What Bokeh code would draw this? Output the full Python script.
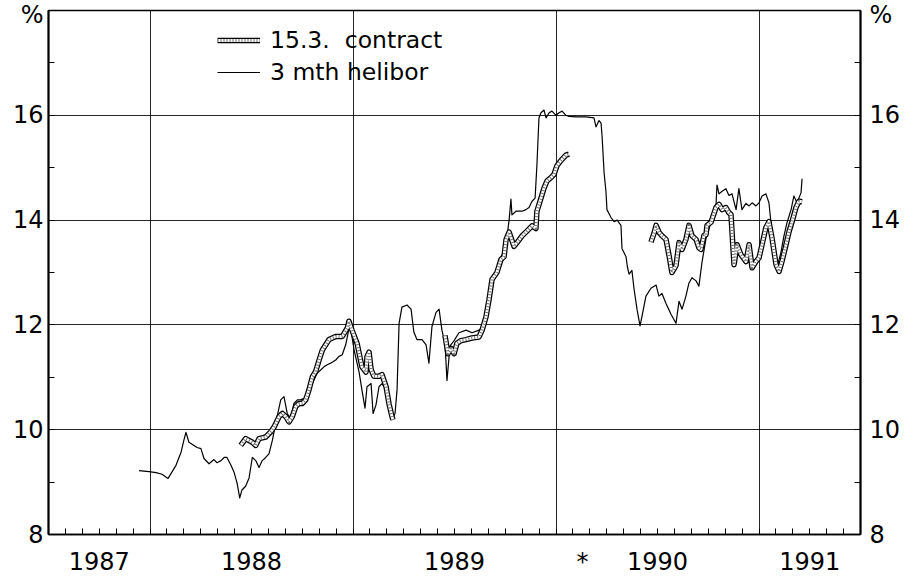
from bokeh.plotting import figure
from bokeh.models import Range1d, FixedTicker, LinearAxis, Legend, LegendItem
from bokeh.embed import file_html
from bokeh.resources import INLINE

# ---------------- data (decimal years, percent) ----------------
helibor_t = [1987.946, 1987.995, 1988.030, 1988.059, 1988.089, 1988.128, 1988.153, 1988.167,
             1988.177, 1988.192, 1988.217, 1988.232, 1988.251, 1988.266, 1988.291, 1988.315,
             1988.330, 1988.350, 1988.365, 1988.379, 1988.399, 1988.414, 1988.429, 1988.442,
             1988.453, 1988.471, 1988.488, 1988.504, 1988.521, 1988.537, 1988.553, 1988.570,
             1988.586, 1988.603, 1988.619, 1988.644, 1988.660, 1988.676, 1988.693, 1988.709,
             1988.726, 1988.742, 1988.759, 1988.775, 1988.792, 1988.808, 1988.824, 1988.841,
             1988.857, 1988.873, 1988.890, 1988.915, 1988.931, 1988.947, 1988.964, 1988.985,
             1989.005, 1989.030, 1989.044, 1989.059, 1989.069, 1989.089, 1989.099, 1989.113,
             1989.128, 1989.143, 1989.163, 1989.177, 1989.192, 1989.207, 1989.217, 1989.227,
             1989.241, 1989.266, 1989.286, 1989.300, 1989.315, 1989.340, 1989.360, 1989.374,
             1989.389, 1989.409, 1989.424, 1989.438, 1989.453, 1989.463, 1989.478, 1989.498,
             1989.522, 1989.557, 1989.586, 1989.621, 1989.636, 1989.655, 1989.670, 1989.685,
             1989.709, 1989.729, 1989.744, 1989.759, 1989.769, 1989.778, 1989.783, 1989.803,
             1989.833, 1989.852, 1989.867, 1989.882, 1989.897, 1989.906, 1989.916, 1989.926,
             1989.941, 1989.951, 1989.966, 1989.980, 1990.000, 1990.015, 1990.030, 1990.049,
             1990.064, 1990.099, 1990.148, 1990.187, 1990.197, 1990.212, 1990.222, 1990.227,
             1990.237, 1990.246, 1990.251, 1990.271, 1990.286, 1990.301, 1990.320, 1990.325,
             1990.345, 1990.352, 1990.360, 1990.374, 1990.384, 1990.399, 1990.414, 1990.424,
             1990.443, 1990.468, 1990.493, 1990.507, 1990.522, 1990.542, 1990.567, 1990.591,
             1990.606, 1990.621, 1990.640, 1990.655, 1990.670, 1990.690, 1990.704, 1990.719,
             1990.739, 1990.754, 1990.769, 1990.788, 1990.793, 1990.803, 1990.818, 1990.837,
             1990.852, 1990.867, 1990.887, 1990.901, 1990.916, 1990.936, 1990.951, 1990.966,
             1990.985, 1991.000, 1991.015, 1991.034, 1991.049, 1991.059, 1991.074, 1991.089,
             1991.108, 1991.123, 1991.138, 1991.158, 1991.172, 1991.187, 1991.207, 1991.212]
helibor_v = [9.22, 9.20, 9.18, 9.15, 9.07, 9.32, 9.57, 9.80,
             9.95, 9.76, 9.70, 9.66, 9.64, 9.45, 9.35, 9.43,
             9.37, 9.41, 9.47, 9.47, 9.32, 9.19, 8.98, 8.70,
             8.85, 8.92, 9.08, 9.47, 9.41, 9.28, 9.41, 9.47,
             9.54, 9.80, 10.12, 10.57, 10.63, 10.31, 10.21, 10.50,
             10.57, 10.57, 10.60, 10.63, 10.82, 10.95, 11.08, 11.14,
             11.20, 11.24, 11.27, 11.33, 11.40, 11.43, 11.62, 12.02,
             11.53, 11.10, 10.76, 10.41, 10.82, 10.88, 10.31, 10.47,
             10.82, 10.88, 10.76, 10.44, 10.19, 10.31, 10.76, 12.03,
             12.34, 12.38, 12.30, 11.86, 11.72, 11.72, 11.62, 11.27,
             11.97, 12.24, 12.30, 11.90, 11.65, 10.94, 11.60, 11.70,
             11.85, 11.90, 11.85, 11.90, 11.95, 12.20, 12.50, 12.85,
             13.00, 13.30, 13.40, 13.70, 14.00, 14.40, 14.10, 14.17,
             14.17, 14.20, 14.24, 14.36, 14.42, 15.05, 15.95, 16.05,
             16.10, 15.95, 16.05, 16.08, 16.00, 16.05, 16.08, 16.00,
             15.98, 15.97, 15.97, 15.95, 15.78, 15.90, 15.85, 15.60,
             14.90, 14.55, 14.20, 14.05, 13.97, 14.00, 13.90, 13.46,
             13.30, 13.10, 12.97, 13.04, 12.70, 12.30, 11.98, 12.17,
             12.55, 12.70, 12.76, 12.55, 12.60, 12.41, 12.20, 12.03,
             12.45, 12.30, 12.55, 12.80, 12.90, 12.84, 12.74, 13.19,
             13.65, 13.84, 14.03, 14.28, 14.67, 14.50, 14.55, 14.60,
             14.47, 14.50, 14.20, 14.60, 14.20, 14.32, 14.27, 14.33,
             14.27, 14.33, 14.46, 14.50, 14.33, 13.95, 13.45, 13.10,
             13.38, 13.70, 13.95, 14.20, 14.46, 14.33, 14.52, 14.79]

# 15.3. contract, one segment per contract year
contract89_t = [1988.447, 1988.471, 1988.504, 1988.521, 1988.537, 1988.570, 1988.595, 1988.611,
                1988.636, 1988.652, 1988.669, 1988.685, 1988.701, 1988.718, 1988.734, 1988.750,
                1988.767, 1988.783, 1988.800, 1988.816, 1988.833, 1988.849, 1988.882, 1988.915,
                1988.947, 1988.972, 1988.980, 1988.995, 1989.020, 1989.044, 1989.064, 1989.069,
                1989.079, 1989.089, 1989.103, 1989.128, 1989.143, 1989.163, 1989.177, 1989.192,
                1989.197]
contract89_v = [9.70, 9.83, 9.76, 9.70, 9.83, 9.86, 9.96, 10.05,
                10.25, 10.31, 10.25, 10.15, 10.25, 10.44, 10.50, 10.50,
                10.57, 10.76, 11.01, 11.11, 11.33, 11.52, 11.72, 11.78,
                11.78, 11.94, 12.07, 11.90, 11.65, 11.20, 11.10, 11.40,
                11.48, 11.15, 11.02, 11.02, 11.05, 10.82, 10.50, 10.25,
                10.19]
contract90_t = [1989.453, 1989.468, 1989.483, 1989.498, 1989.512, 1989.532, 1989.557, 1989.586,
                1989.621, 1989.636, 1989.655, 1989.670, 1989.685, 1989.709, 1989.729, 1989.744,
                1989.754, 1989.769, 1989.793, 1989.808, 1989.833, 1989.857, 1989.882, 1989.901,
                1989.906, 1989.926, 1989.941, 1989.956, 1989.975, 1989.990, 1990.005, 1990.025,
                1990.049, 1990.064]
contract90_v = [11.80, 11.45, 11.55, 11.45, 11.65, 11.70, 11.72, 11.75,
                11.77, 11.90, 12.15, 12.48, 12.87, 13.00, 13.25, 13.30,
                13.63, 13.77, 13.50, 13.57, 13.70, 13.79, 13.89, 13.84,
                14.17, 14.42, 14.61, 14.75, 14.81, 14.87, 15.04, 15.14,
                15.24, 15.26]
contract91_t = [1990.468, 1990.483, 1990.493, 1990.507, 1990.522, 1990.542, 1990.557, 1990.571,
                1990.591, 1990.606, 1990.621, 1990.640, 1990.655, 1990.670, 1990.690, 1990.704,
                1990.714, 1990.729, 1990.739, 1990.744, 1990.764, 1990.788, 1990.803, 1990.818,
                1990.837, 1990.852, 1990.862, 1990.867, 1990.877, 1990.892, 1990.911, 1990.936,
                1990.951, 1990.966, 1990.985, 1991.000, 1991.015, 1991.034, 1991.049, 1991.064,
                1991.084, 1991.099, 1991.113, 1991.133, 1991.148, 1991.163, 1991.182, 1991.197,
                1991.212]
contract91_v = [13.58, 13.75, 13.90, 13.77, 13.70, 13.63, 13.32, 13.00,
                13.13, 13.57, 13.44, 13.63, 13.90, 13.70, 13.63, 13.47,
                13.44, 13.71, 13.72, 13.90, 13.96, 14.24, 14.30, 14.20,
                14.24, 14.14, 14.11, 13.78, 13.15, 13.53, 13.34, 13.21,
                13.53, 13.09, 13.21, 13.28, 13.53, 13.86, 13.97, 13.66,
                13.15, 13.02, 13.21, 13.53, 13.78, 13.97, 14.24, 14.36,
                14.35]

# axis texts / ticks
year_label_pos = [1987.75, 1988.5, 1989.5, 1990.13, 1990.5, 1991.25]
year_label_txt = ["1987", "1988", "1989", "*", "1990", "1991"]
year_bounds = [1988, 1989, 1990, 1991]
y_ticks = [8, 10, 12, 14, 16, 18]
y_tick_txt = ["8", "10", "12", "14", "16", "%"]
y_minor = [9, 11, 13, 15, 17]
y_grid = [10, 12, 14, 16]

month_ticks = [1987.5 + k / 12 for k in range(49)]

FONT = "DejaVu Sans"

p = figure(width=905, height=578, output_backend="svg", toolbar_location=None,
           x_range=Range1d(1987.5, 1991.5), y_range=Range1d(8, 18),
           min_border_left=48, min_border_right=45, min_border_top=10, min_border_bottom=44)
p.background_fill_color = "white"
p.border_fill_color = "white"
p.outline_line_color = "black"
p.outline_line_width = 1.5

# grids
p.xgrid.ticker = FixedTicker(ticks=year_bounds)
p.ygrid.ticker = FixedTicker(ticks=y_grid)
for g in (p.xgrid, p.ygrid):
    g.grid_line_color = "black"
    g.grid_line_width = 1
    g.grid_line_alpha = 0.85

# bottom axis: year labels, monthly tick marks inside
ax = p.xaxis[0]
ax.ticker = FixedTicker(ticks=year_label_pos, minor_ticks=month_ticks)
ax.major_label_overrides = dict(zip(year_label_pos, year_label_txt))
ax.major_tick_line_color = None
ax.minor_tick_in = 6
ax.minor_tick_out = 0
ax.minor_tick_line_color = "black"
ax.axis_line_width = 1.5
ax.axis_line_color = "black"
ax.major_label_standoff = 7
ax.major_label_text_font = FONT
ax.major_label_text_font_size = "24px"
ax.major_label_text_color = "black"

# y axes
def style_y(a, standoff):
    a.ticker = FixedTicker(ticks=y_ticks, minor_ticks=y_minor)
    a.major_label_overrides = dict(zip(y_ticks, y_tick_txt))
    a.major_tick_in = 6
    a.major_tick_out = 0
    a.minor_tick_in = 6
    a.minor_tick_out = 0
    a.major_tick_line_color = "black"
    a.minor_tick_line_color = "black"
    a.axis_line_color = "black"
    a.axis_line_width = 2
    a.major_label_standoff = standoff
    a.major_label_text_font = FONT
    a.major_label_text_font_size = "24px"
    a.major_label_text_color = "black"

style_y(p.yaxis[0], 5)
ry = LinearAxis()
style_y(ry, 9)
p.add_layout(ry, "right")

# series
r_h = p.line(helibor_t, helibor_v, line_color="black", line_width=1.2, line_join="round")
cxs = [contract89_t, contract90_t, contract91_t]
cys = [contract89_v, contract90_v, contract91_v]
r_c1 = p.multi_line(cxs, cys, line_color="black", line_width=5.5, line_join="round")
r_c2 = p.multi_line(cxs, cys, line_color="white", line_width=3, line_join="round")
r_c3 = p.multi_line(cxs, cys, line_color="#707070", line_width=3, line_dash="1 2",
                    line_join="round")

legend = Legend(items=[LegendItem(label="15.3.\u00a0 contract", renderers=[r_c1, r_c2, r_c3]),
                       LegendItem(label="3 mth helibor", renderers=[r_h])],
                location=(169, 448), padding=0, margin=0, spacing=4,
                glyph_width=43, glyph_height=20, label_standoff=10,
                label_text_font=FONT, label_text_font_size="23.5px", label_text_color="black",
                border_line_color=None, background_fill_alpha=0)
p.add_layout(legend)

open("out.html", "w").write(file_html(p, INLINE))
